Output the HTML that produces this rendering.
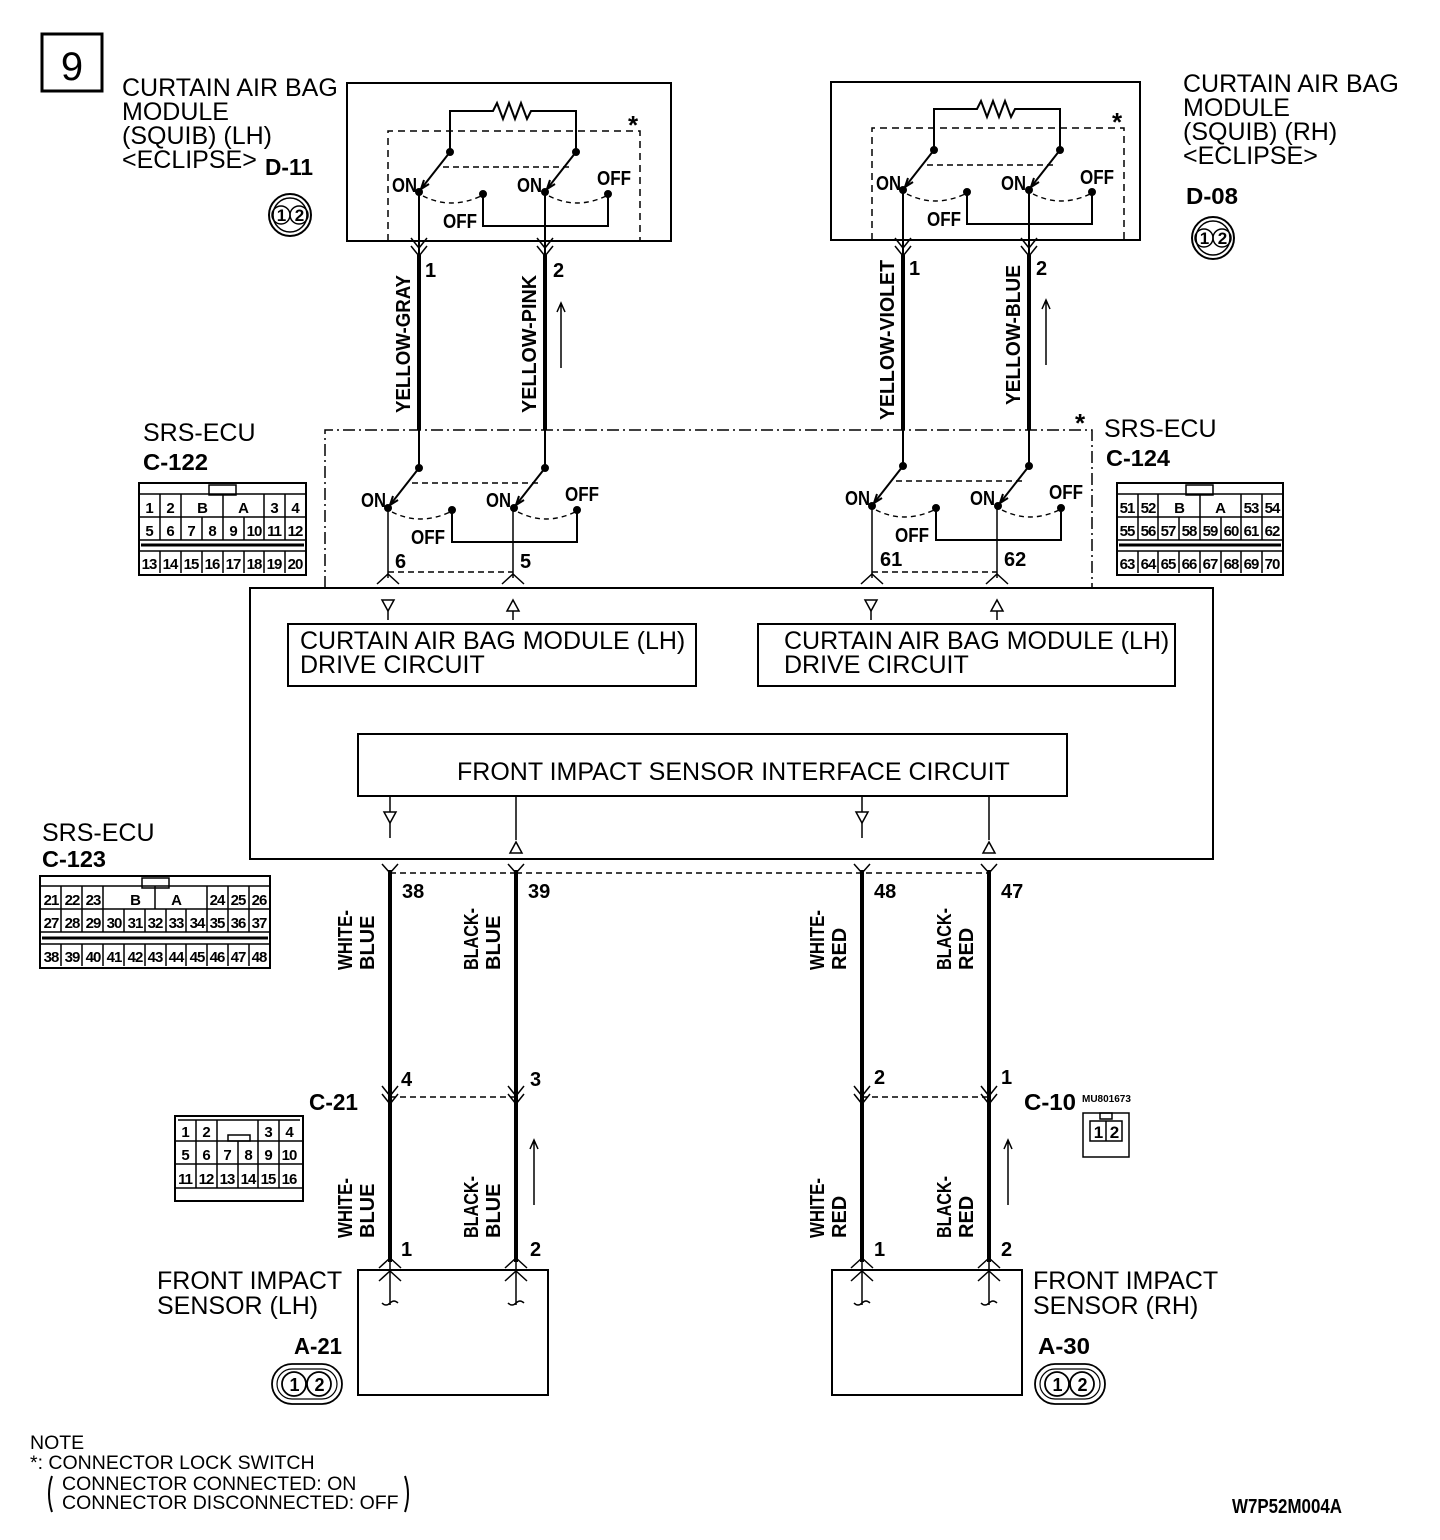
<!DOCTYPE html>
<html><head><meta charset="utf-8"><style>
html,body{margin:0;padding:0;background:#fff;}
svg{display:block}
text{font-family:"Liberation Sans",sans-serif;fill:#000}
.n{font-size:25px}
.c{font-size:15px;font-weight:bold;letter-spacing:-1px}
.l{font-size:23px;font-weight:bold}
.w{font-size:20px;font-weight:bold}
.o{font-size:20px;font-weight:bold}
</style></head><body>
<svg width="1440" height="1540" viewBox="0 0 1440 1540" xmlns="http://www.w3.org/2000/svg">
<defs>
<g id="sw" fill="none" stroke="#000" stroke-width="2">
 <line x1="31" y1="-40" x2="2" y2="-3"/>
 <line x1="157" y1="-40" x2="128" y2="-3"/>
 <path d="M2,-3 l3,-9 M2,-3 l8,-5 M128,-3 l3,-9 M128,-3 l8,-5" stroke-width="2"/>
 <line x1="24" y1="-25" x2="150" y2="-25" stroke-dasharray="6,4" stroke-width="1.6"/>
 <path d="M4,4 Q32,18 62,4" stroke-dasharray="5,4" stroke-width="1.4"/>
 <path d="M130,4 Q158,18 187,4" stroke-dasharray="5,4" stroke-width="1.4"/>
 <path d="M64,2 V34 H189 V2" stroke-width="2"/>
 <circle cx="31" cy="-40" r="3" fill="#000"/><circle cx="157" cy="-40" r="3" fill="#000"/>
 <circle cx="0" cy="0" r="3" fill="#000"/><circle cx="126" cy="0" r="3" fill="#000"/>
 <circle cx="64" cy="2" r="3" fill="#000"/><circle cx="189" cy="2" r="3" fill="#000"/>
</g>
<g id="res" fill="none" stroke="#000" stroke-width="2">
 <path d="M31,-40 V-81 H74 l4,-8 l6,16 l6,-16 l6,16 l6,-16 l6,16 l4,-8 H157 V-40"/>
</g>
<g id="dn" fill="none" stroke="#000" stroke-width="1.5"><path d="M-8,-6 L0,4 L8,-6"/><path d="M-8,2 L0,12 L8,2"/></g>
<g id="up" fill="none" stroke="#000" stroke-width="1.5"><path d="M-11,6 L0,-4 L11,6"/></g>
<g id="dtri" fill="#fff" stroke="#000" stroke-width="1.5"><path d="M-6,0 H6 L0,11 Z"/><line x1="0" y1="11" x2="0" y2="20"/></g>
<g id="utri" fill="#fff" stroke="#000" stroke-width="1.5"><path d="M-6,11 H6 L0,0 Z"/><line x1="0" y1="11" x2="0" y2="20"/></g>
</defs>

<rect x="42" y="34" width="60" height="57" fill="none" stroke="#000" stroke-width="3"/>
<text x="72" y="80" text-anchor="middle" style="font-size:40px">9</text>

<text x="122" y="96" class="n">CURTAIN AIR BAG</text>
<text x="122" y="120" class="n">MODULE</text>
<text x="122" y="144" class="n">(SQUIB) (LH)</text>
<text x="122" y="168" class="n">&lt;ECLIPSE&gt;</text>
<text x="265" y="175" class="l" textLength="48" lengthAdjust="spacingAndGlyphs">D-11</text>
<circle cx="290" cy="215" r="21" fill="none" stroke="#000" stroke-width="2"/>
<circle cx="290" cy="215" r="17" fill="none" stroke="#000" stroke-width="1.5"/>
<circle cx="281" cy="215" r="9" fill="none" stroke="#000" stroke-width="1.5"/><circle cx="299" cy="215" r="9" fill="none" stroke="#000" stroke-width="1.5"/>
<text x="281" y="221" class="c" style="font-size:17px" text-anchor="middle">1</text><text x="299" y="221" class="c" style="font-size:17px" text-anchor="middle">2</text>

<rect x="347" y="83" width="324" height="158" fill="none" stroke="#000" stroke-width="2"/>
<path d="M388,241 V131 H640 V241" fill="none" stroke="#000" stroke-width="1.5" stroke-dasharray="7,5"/>
<text x="628" y="134" style="font-size:26px;font-weight:bold">*</text>
<use href="#sw" x="419" y="192"/><use href="#res" x="419" y="192"/>
<text x="392" y="192" class="o" textLength="25" lengthAdjust="spacingAndGlyphs">ON</text><text x="517" y="192" class="o" textLength="25" lengthAdjust="spacingAndGlyphs">ON</text>
<text x="443" y="228" class="o" textLength="34" lengthAdjust="spacingAndGlyphs">OFF</text><text x="597" y="185" class="o" textLength="34" lengthAdjust="spacingAndGlyphs">OFF</text>

<text x="1183" y="92" class="n">CURTAIN AIR BAG</text>
<text x="1183" y="116" class="n">MODULE</text>
<text x="1183" y="140" class="n">(SQUIB) (RH)</text>
<text x="1183" y="164" class="n">&lt;ECLIPSE&gt;</text>
<text x="1186" y="204" class="l" textLength="52" lengthAdjust="spacingAndGlyphs">D-08</text>
<circle cx="1213" cy="238" r="21" fill="none" stroke="#000" stroke-width="2"/>
<circle cx="1213" cy="238" r="17" fill="none" stroke="#000" stroke-width="1.5"/>
<circle cx="1204" cy="238" r="9" fill="none" stroke="#000" stroke-width="1.5"/><circle cx="1222" cy="238" r="9" fill="none" stroke="#000" stroke-width="1.5"/>
<text x="1204" y="244" class="c" style="font-size:17px" text-anchor="middle">1</text><text x="1222" y="244" class="c" style="font-size:17px" text-anchor="middle">2</text>

<rect x="831" y="82" width="309" height="158" fill="none" stroke="#000" stroke-width="2"/>
<path d="M872,240 V128 H1124 V240" fill="none" stroke="#000" stroke-width="1.5" stroke-dasharray="7,5"/>
<text x="1112" y="131" style="font-size:26px;font-weight:bold">*</text>
<use href="#sw" x="903" y="190"/><use href="#res" x="903" y="190"/>
<text x="876" y="190" class="o" textLength="25" lengthAdjust="spacingAndGlyphs">ON</text><text x="1001" y="190" class="o" textLength="25" lengthAdjust="spacingAndGlyphs">ON</text>
<text x="927" y="226" class="o" textLength="34" lengthAdjust="spacingAndGlyphs">OFF</text><text x="1080" y="184" class="o" textLength="34" lengthAdjust="spacingAndGlyphs">OFF</text>

<g stroke="#000" fill="none">
<path d="M419,192 V255 M545,192 V255 M903,190 V255 M1029,190 V255" stroke-width="2"/>
<path d="M419,255 V430 M545,255 V430 M903,255 V430 M1029,255 V430" stroke-width="4"/>
<path d="M419,430 V465 M545,430 V465 M903,430 V465 M1029,430 V465" stroke-width="2"/>
</g>
<use href="#dn" x="419" y="244"/><use href="#dn" x="545" y="244"/><use href="#dn" x="903" y="244"/><use href="#dn" x="1029" y="244"/>
<text x="425" y="277" class="w">1</text><text x="553" y="277" class="w">2</text>
<text x="909" y="275" class="w">1</text><text x="1036" y="275" class="w">2</text>
<text transform="translate(410,413) rotate(-90)" class="w" textLength="138" lengthAdjust="spacingAndGlyphs">YELLOW-GRAY</text>
<text transform="translate(536,413) rotate(-90)" class="w" textLength="138" lengthAdjust="spacingAndGlyphs">YELLOW-PINK</text>
<text transform="translate(894,420) rotate(-90)" class="w" textLength="160" lengthAdjust="spacingAndGlyphs">YELLOW-VIOLET</text>
<text transform="translate(1020,405) rotate(-90)" class="w" textLength="140" lengthAdjust="spacingAndGlyphs">YELLOW-BLUE</text>
<g stroke="#000" stroke-width="1.5" fill="none">
<path d="M561,368 V303 M557,312 L561,303 L565,312"/>
<path d="M1046,365 V300 M1042,309 L1046,300 L1050,309"/>
<path d="M534,1205 V1140 M530,1149 L534,1140 L538,1149"/>
<path d="M1008,1205 V1140 M1004,1149 L1008,1140 L1012,1149"/>
</g>

<path d="M325,588 V430 H1092 V588" fill="none" stroke="#000" stroke-width="1.5" stroke-dasharray="12,4,2,4"/>
<text x="1075" y="432" style="font-size:26px;font-weight:bold">*</text>
<text x="143" y="441" class="n">SRS-ECU</text>
<text x="143" y="470" class="l" textLength="65" lengthAdjust="spacingAndGlyphs">C-122</text>
<text x="1104" y="437" class="n">SRS-ECU</text>
<text x="1106" y="466" class="l" textLength="64" lengthAdjust="spacingAndGlyphs">C-124</text>
<use href="#sw" x="388" y="508"/><use href="#sw" x="872" y="506"/>
<text x="361" y="507" class="o" textLength="25" lengthAdjust="spacingAndGlyphs">ON</text><text x="486" y="507" class="o" textLength="25" lengthAdjust="spacingAndGlyphs">ON</text>
<text x="411" y="544" class="o" textLength="34" lengthAdjust="spacingAndGlyphs">OFF</text><text x="565" y="501" class="o" textLength="34" lengthAdjust="spacingAndGlyphs">OFF</text>
<text x="845" y="505" class="o" textLength="25" lengthAdjust="spacingAndGlyphs">ON</text><text x="970" y="505" class="o" textLength="25" lengthAdjust="spacingAndGlyphs">ON</text>
<text x="895" y="542" class="o" textLength="34" lengthAdjust="spacingAndGlyphs">OFF</text><text x="1049" y="499" class="o" textLength="34" lengthAdjust="spacingAndGlyphs">OFF</text>
<g stroke="#000" fill="none" stroke-width="1.5">
<path d="M388,508 V578 M513,508 V578 M872,506 V578 M997,506 V578"/>
<path d="M388,572 H513 M872,572 H997" stroke-dasharray="6,4"/>
</g>
<use href="#up" x="388" y="578"/><use href="#up" x="513" y="578"/><use href="#up" x="872" y="578"/><use href="#up" x="997" y="578"/>
<text x="395" y="568" class="w">6</text><text x="520" y="568" class="w">5</text>
<text x="880" y="566" class="w">61</text><text x="1004" y="566" class="w">62</text>

<rect x="250" y="588" width="963" height="271" fill="none" stroke="#000" stroke-width="2"/>
<use href="#dtri" x="388" y="600"/><use href="#utri" x="513" y="600"/><use href="#dtri" x="871" y="600"/><use href="#utri" x="997" y="600"/>
<rect x="288" y="624" width="408" height="62" fill="none" stroke="#000" stroke-width="2"/>
<rect x="758" y="624" width="417" height="62" fill="none" stroke="#000" stroke-width="2"/>
<text x="300" y="649" class="n">CURTAIN AIR BAG MODULE (LH)</text><text x="300" y="673" class="n">DRIVE CIRCUIT</text>
<text x="784" y="649" class="n">CURTAIN AIR BAG MODULE (LH)</text><text x="784" y="673" class="n">DRIVE CIRCUIT</text>
<rect x="358" y="734" width="709" height="62" fill="none" stroke="#000" stroke-width="2"/>
<text x="457" y="780" class="n">FRONT IMPACT SENSOR INTERFACE CIRCUIT</text>
<g stroke="#000" stroke-width="1.5"><path d="M390,796 V812 M516,796 V840 M862,796 V812 M989,796 V840"/></g>
<g fill="#fff" stroke="#000" stroke-width="1.5">
<path d="M384,812 H396 L390,823 Z M856,812 H868 L862,823 Z"/>
<path d="M510,853 H522 L516,842 Z M983,853 H995 L989,842 Z"/>
</g>
<path d="M390,823 V838 M862,823 V838" stroke="#000" stroke-width="1.5"/>

<text x="42" y="841" class="n">SRS-ECU</text>
<text x="42" y="867" class="l" textLength="64" lengthAdjust="spacingAndGlyphs">C-123</text>

<g stroke="#000" fill="none">
<path d="M390,870 V1262 M516,870 V1262 M862,870 V1262 M989,870 V1262" stroke-width="4"/>
<path d="M390,1262 V1305 M516,1262 V1305 M862,1262 V1305 M989,1262 V1305" stroke-width="1.5"/>
<path d="M390,873 H516 M516,873 H989" stroke-width="1.5" stroke-dasharray="6,4"/>
<path d="M390,1097 H516 M862,1097 H989" stroke-width="1.5" stroke-dasharray="6,4"/>
<path d="M382,864 L390,873 L398,864 M508,864 L516,873 L524,864 M854,864 L862,873 L870,864 M981,864 L989,873 L997,864" stroke-width="1.5"/>
<path d="M382,1303 q4,4 8,0 q4,-4 8,0 M508,1303 q4,4 8,0 q4,-4 8,0 M854,1303 q4,4 8,0 q4,-4 8,0 M981,1303 q4,4 8,0 q4,-4 8,0" stroke-width="1.5"/>
</g>
<use href="#dn" x="390" y="1092"/><use href="#dn" x="516" y="1092"/><use href="#dn" x="862" y="1092"/><use href="#dn" x="989" y="1092"/>
<use href="#up" x="390" y="1262"/><use href="#up" x="516" y="1262"/><use href="#up" x="862" y="1262"/><use href="#up" x="989" y="1262"/>
<use href="#up" x="390" y="1275"/><use href="#up" x="516" y="1275"/><use href="#up" x="862" y="1275"/><use href="#up" x="989" y="1275"/>
<text x="402" y="898" class="w">38</text><text x="528" y="898" class="w">39</text><text x="874" y="898" class="w">48</text><text x="1001" y="898" class="w">47</text>
<text x="401" y="1086" class="w">4</text><text x="530" y="1086" class="w">3</text><text x="874" y="1084" class="w">2</text><text x="1001" y="1084" class="w">1</text>
<text x="401" y="1256" class="w">1</text><text x="530" y="1256" class="w">2</text><text x="874" y="1256" class="w">1</text><text x="1001" y="1256" class="w">2</text>
<text x="309" y="1110" class="l" textLength="49" lengthAdjust="spacingAndGlyphs">C-21</text>
<text x="1024" y="1110" class="l" textLength="52" lengthAdjust="spacingAndGlyphs">C-10</text>
<text x="1082" y="1102" style="font-size:10px;font-weight:bold">MU801673</text>
<g class="w">
<text transform="translate(352,970) rotate(-90)" textLength="60" lengthAdjust="spacingAndGlyphs">WHITE-</text><text transform="translate(374,970) rotate(-90)">BLUE</text>
<text transform="translate(478,970) rotate(-90)" textLength="62" lengthAdjust="spacingAndGlyphs">BLACK-</text><text transform="translate(500,970) rotate(-90)">BLUE</text>
<text transform="translate(824,970) rotate(-90)" textLength="60" lengthAdjust="spacingAndGlyphs">WHITE-</text><text transform="translate(846,970) rotate(-90)">RED</text>
<text transform="translate(951,970) rotate(-90)" textLength="62" lengthAdjust="spacingAndGlyphs">BLACK-</text><text transform="translate(973,970) rotate(-90)">RED</text>
<text transform="translate(352,1238) rotate(-90)" textLength="60" lengthAdjust="spacingAndGlyphs">WHITE-</text><text transform="translate(374,1238) rotate(-90)">BLUE</text>
<text transform="translate(478,1238) rotate(-90)" textLength="62" lengthAdjust="spacingAndGlyphs">BLACK-</text><text transform="translate(500,1238) rotate(-90)">BLUE</text>
<text transform="translate(824,1238) rotate(-90)" textLength="60" lengthAdjust="spacingAndGlyphs">WHITE-</text><text transform="translate(846,1238) rotate(-90)">RED</text>
<text transform="translate(951,1238) rotate(-90)" textLength="62" lengthAdjust="spacingAndGlyphs">BLACK-</text><text transform="translate(973,1238) rotate(-90)">RED</text>
</g>

<rect x="358" y="1270" width="190" height="125" fill="none" stroke="#000" stroke-width="2"/>
<rect x="832" y="1270" width="190" height="125" fill="none" stroke="#000" stroke-width="2"/>
<text x="157" y="1289" class="n">FRONT IMPACT</text><text x="157" y="1314" class="n">SENSOR (LH)</text>
<text x="1033" y="1289" class="n">FRONT IMPACT</text><text x="1033" y="1314" class="n">SENSOR (RH)</text>
<text x="294" y="1354" class="l" textLength="48" lengthAdjust="spacingAndGlyphs">A-21</text><text x="1038" y="1354" class="l" textLength="52" lengthAdjust="spacingAndGlyphs">A-30</text>
<g fill="none" stroke="#000" stroke-width="1.8">
<rect x="272" y="1364" width="70" height="40" rx="20"/><rect x="277" y="1369" width="60" height="30" rx="15" stroke-width="1.2"/>
<circle cx="294" cy="1384" r="12"/><circle cx="319" cy="1384" r="12"/>
<rect x="1035" y="1364" width="70" height="40" rx="20"/><rect x="1040" y="1369" width="60" height="30" rx="15" stroke-width="1.2"/>
<circle cx="1057" cy="1384" r="12"/><circle cx="1082" cy="1384" r="12"/>
</g>
<text x="294" y="1391" class="c" style="font-size:18px" text-anchor="middle">1</text><text x="319" y="1391" class="c" style="font-size:18px" text-anchor="middle">2</text>
<text x="1057" y="1391" class="c" style="font-size:18px" text-anchor="middle">1</text><text x="1082" y="1391" class="c" style="font-size:18px" text-anchor="middle">2</text>

<g fill="none" stroke="#000" stroke-width="1.5">
<rect x="1083" y="1113" width="46" height="44"/><rect x="1090" y="1121" width="32" height="20"/><line x1="1106" y1="1121" x2="1106" y2="1141"/>
<rect x="1100" y="1113" width="12" height="6"/>
</g>
<text x="1098" y="1138" class="c" style="font-size:17px" text-anchor="middle">1</text><text x="1114" y="1138" class="c" style="font-size:17px" text-anchor="middle">2</text>

<g fill="none" stroke="#000" stroke-width="1.5">
<rect x="139" y="483" width="167" height="92" stroke-width="2"/>
<rect x="209" y="485" width="27" height="10"/>
<path d="M139,494 H306 M139,517 H306 M139,540 H306 M139,551 H306"/>
<path d="M160,494 V540 M181,494 V540 M264,494 V540 M285,494 V540 M202,517 V540 M223,517 V540 M244,517 V540 M223,494 V517"/>
<path d="M160,551 V573 M181,551 V573 M202,551 V573 M223,551 V573 M244,551 V573 M264,551 V573 M285,551 V573"/>
<line x1="141" y1="545" x2="304" y2="545" stroke-width="3"/>
<rect x="40" y="876" width="230" height="92" stroke-width="2"/>
<rect x="142" y="878" width="27" height="10"/>
<path d="M40,886 H270 M40,909 H270 M40,932 H270 M40,944 H270"/>
<path d="M61,886 V932 M82,886 V932 M103,886 V932 M207,886 V932 M228,886 V932 M249,886 V932 M155,886 V909"/>
<path d="M124,909 V932 M145,909 V932 M166,909 V932 M186,909 V932"/>
<path d="M61,944 V966 M82,944 V966 M103,944 V966 M124,944 V966 M145,944 V966 M166,944 V966 M186,944 V966 M207,944 V966 M228,944 V966 M249,944 V966"/>
<line x1="42" y1="938" x2="268" y2="938" stroke-width="3"/>
<rect x="1117" y="483" width="166" height="92" stroke-width="2"/>
<rect x="1186" y="485" width="27" height="10"/>
<path d="M1117,494 H1283 M1117,517 H1283 M1117,540 H1283 M1117,551 H1283"/>
<path d="M1138,494 V540 M1158,494 V540 M1241,494 V540 M1262,494 V540 M1179,517 V540 M1200,517 V540 M1221,517 V540 M1200,494 V517"/>
<path d="M1138,551 V573 M1158,551 V573 M1179,551 V573 M1200,551 V573 M1221,551 V573 M1241,551 V573 M1262,551 V573"/>
<line x1="1119" y1="545" x2="1281" y2="545" stroke-width="3"/>
<rect x="175" y="1116" width="128" height="85" stroke-width="2"/>
<path d="M175,1141 H303 M175,1164 H303 M175,1188 H303 M178,1120 H300"/>
<path d="M196,1120 V1188 M217,1141 V1188 M238,1141 V1188 M258,1120 V1188 M279,1120 V1188 M217,1120 V1141"/>
<rect x="228" y="1135" width="22" height="6"/>
</g>
<g class="c" text-anchor="middle">
<text x="149" y="513">1</text><text x="170" y="513">2</text><text x="202" y="513">B</text><text x="243" y="513">A</text><text x="274" y="513">3</text><text x="295" y="513">4</text>
<text x="149" y="536">5</text><text x="170" y="536">6</text><text x="191" y="536">7</text><text x="212" y="536">8</text><text x="233" y="536">9</text><text x="254" y="536">10</text><text x="274" y="536">11</text><text x="295" y="536">12</text>
<text x="149" y="569">13</text><text x="170" y="569">14</text><text x="191" y="569">15</text><text x="212" y="569">16</text><text x="233" y="569">17</text><text x="254" y="569">18</text><text x="274" y="569">19</text><text x="295" y="569">20</text>
<text x="51" y="905">21</text><text x="72" y="905">22</text><text x="93" y="905">23</text><text x="135" y="905">B</text><text x="176" y="905">A</text><text x="217" y="905">24</text><text x="238" y="905">25</text><text x="259" y="905">26</text>
<text x="51" y="928">27</text><text x="72" y="928">28</text><text x="93" y="928">29</text><text x="114" y="928">30</text><text x="135" y="928">31</text><text x="155" y="928">32</text><text x="176" y="928">33</text><text x="197" y="928">34</text><text x="217" y="928">35</text><text x="238" y="928">36</text><text x="259" y="928">37</text>
<text x="51" y="962">38</text><text x="72" y="962">39</text><text x="93" y="962">40</text><text x="114" y="962">41</text><text x="135" y="962">42</text><text x="155" y="962">43</text><text x="176" y="962">44</text><text x="197" y="962">45</text><text x="217" y="962">46</text><text x="238" y="962">47</text><text x="259" y="962">48</text>
<text x="1127" y="513">51</text><text x="1148" y="513">52</text><text x="1179" y="513">B</text><text x="1220" y="513">A</text><text x="1251" y="513">53</text><text x="1272" y="513">54</text>
<text x="1127" y="536">55</text><text x="1148" y="536">56</text><text x="1168" y="536">57</text><text x="1189" y="536">58</text><text x="1210" y="536">59</text><text x="1231" y="536">60</text><text x="1251" y="536">61</text><text x="1272" y="536">62</text>
<text x="1127" y="569">63</text><text x="1148" y="569">64</text><text x="1168" y="569">65</text><text x="1189" y="569">66</text><text x="1210" y="569">67</text><text x="1231" y="569">68</text><text x="1251" y="569">69</text><text x="1272" y="569">70</text>
<text x="185" y="1137">1</text><text x="206" y="1137">2</text><text x="268" y="1137">3</text><text x="289" y="1137">4</text>
<text x="185" y="1160">5</text><text x="206" y="1160">6</text><text x="227" y="1160">7</text><text x="248" y="1160">8</text><text x="268" y="1160">9</text><text x="289" y="1160">10</text>
<text x="185" y="1184">11</text><text x="206" y="1184">12</text><text x="227" y="1184">13</text><text x="248" y="1184">14</text><text x="268" y="1184">15</text><text x="289" y="1184">16</text>
</g>

<text x="30" y="1449" style="font-size:19.5px">NOTE</text>
<text x="30" y="1469" style="font-size:19.5px">*: CONNECTOR LOCK SWITCH</text>
<text x="62" y="1490" style="font-size:19.5px">CONNECTOR CONNECTED: ON</text>
<text x="62" y="1509" style="font-size:19.5px">CONNECTOR DISCONNECTED: OFF</text>
<path d="M52,1476 q-6,18 0,36 M405,1476 q6,18 0,36" fill="none" stroke="#000" stroke-width="2"/>
<text x="1232" y="1513" class="w" textLength="110" lengthAdjust="spacingAndGlyphs">W7P52M004A</text>
</svg>
</body></html>
